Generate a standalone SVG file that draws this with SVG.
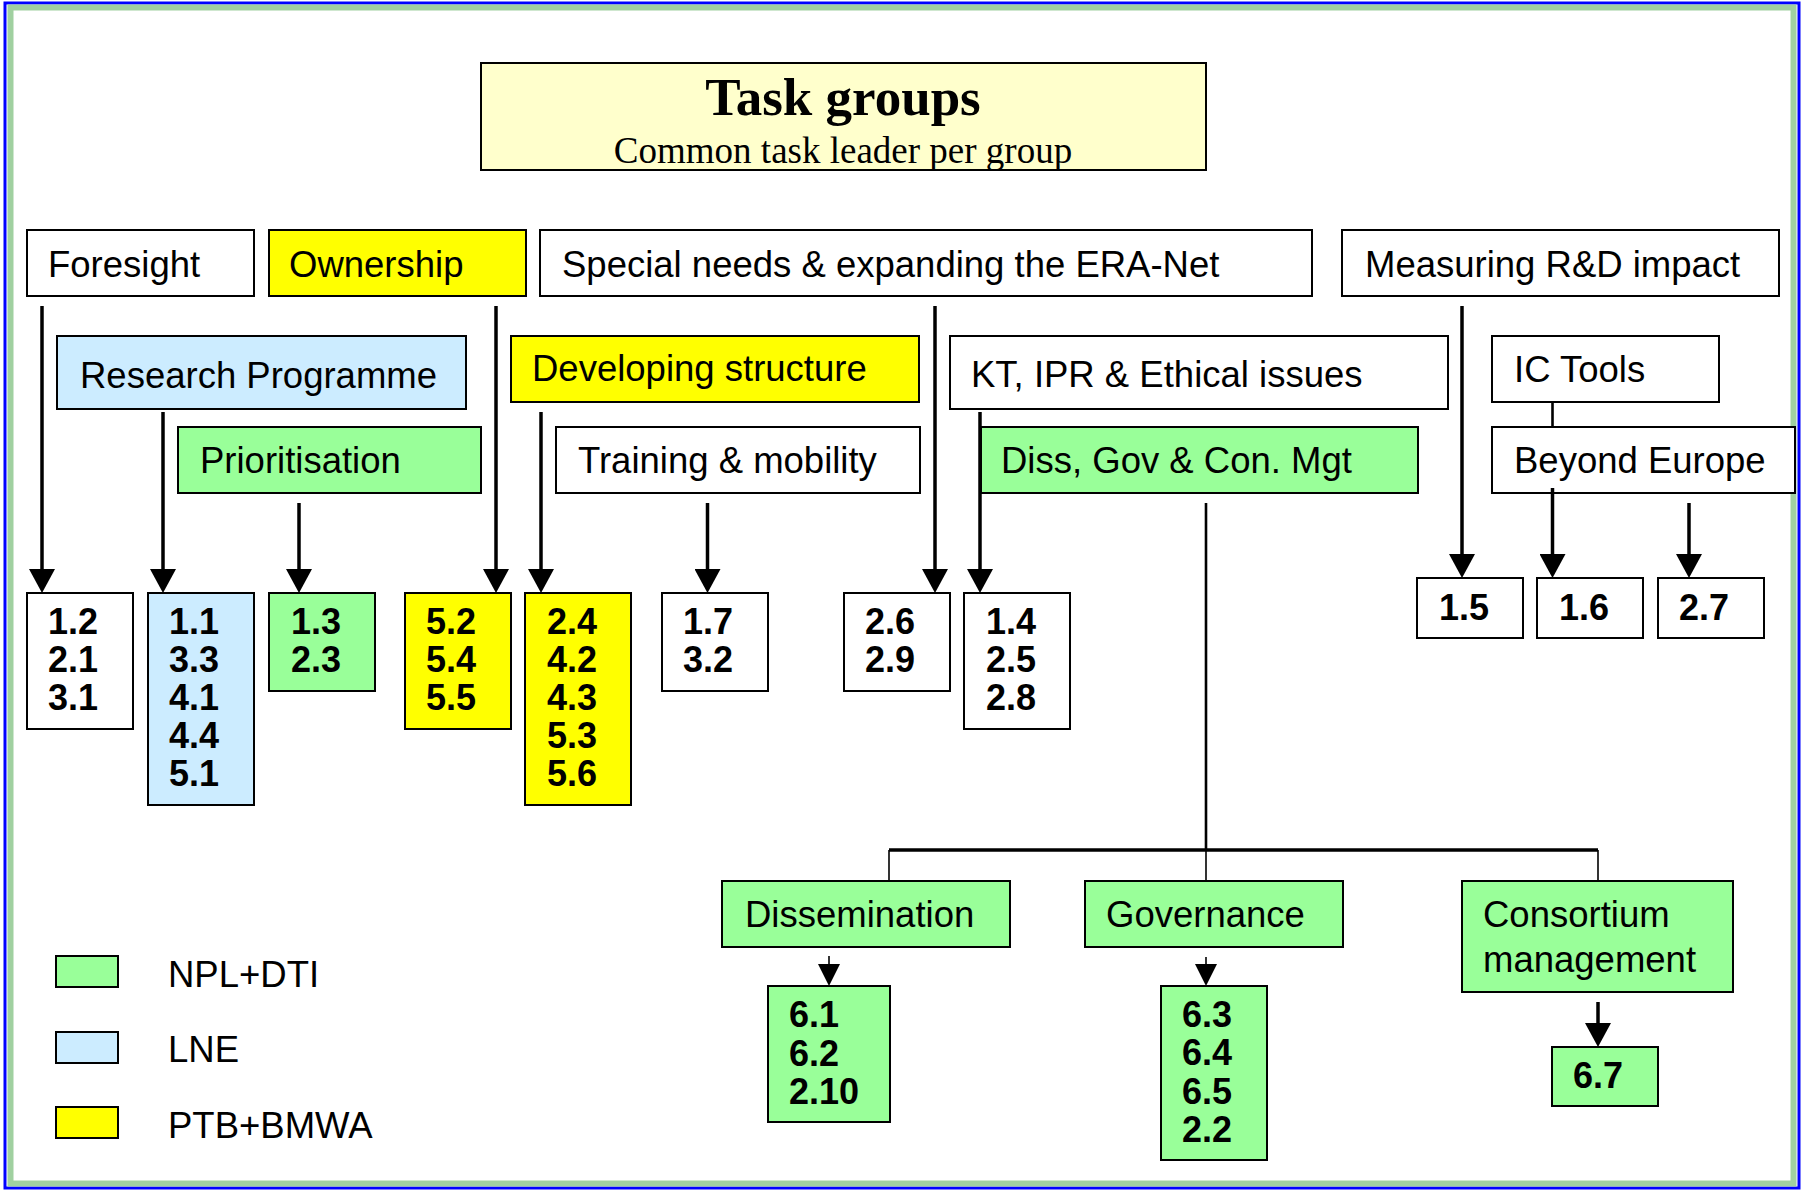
<svg xmlns="http://www.w3.org/2000/svg" width="1803" height="1191" viewBox="0 0 1803 1191">
<style>
.box{stroke:#000;stroke-width:2}
.w{fill:#fff}.g{fill:#99FF99}.b{fill:#CCECFF}.y{fill:#FFFF00}
.lbl{font-family:"Liberation Sans",Arial,sans-serif;font-size:36.5px;fill:#000}
.num{font-family:"Liberation Sans",Arial,sans-serif;font-size:36px;font-weight:bold;fill:#000}
.arr{stroke:#000;stroke-width:3.5;fill:none}
.thin{stroke:#000;stroke-width:1.6;fill:none}
.mid{stroke:#000;stroke-width:2.6;fill:none}
</style>
<defs>
<marker id="ah" markerUnits="userSpaceOnUse" markerWidth="24" markerHeight="26" viewBox="0 0 24 26" refX="18" refY="13" orient="auto"><path d="M0,0 L24,13 L0,26 z" fill="#000"/></marker>
<marker id="ahs" markerUnits="userSpaceOnUse" markerWidth="22" markerHeight="22" viewBox="0 0 22 22" refX="16" refY="11" orient="auto"><path d="M0,0 L22,11 L0,22 z" fill="#000"/></marker>
</defs>
<rect x="0" y="0" width="1803" height="1191" fill="#fff"/>
<g id="frame">
<rect x="5" y="3" width="1794" height="1185" fill="none" stroke="#0000FF" stroke-width="3"/>
<rect x="10.5" y="7.5" width="1783" height="1176" fill="none" stroke="#A0D0A0" stroke-width="6"/>
</g>
<g id="n-title">
<rect class="box" x="481" y="63" width="725" height="107" fill="#FFFFCC"/>
<text x="843" y="115" text-anchor="middle" style="font-family:'Liberation Serif','Times New Roman',serif;font-size:53px;font-weight:bold">Task groups</text>
<text x="843" y="163" text-anchor="middle" style="font-family:'Liberation Serif','Times New Roman',serif;font-size:37px">Common task leader per group</text>
</g>
<g id="n-foresight"><rect class="box w" x="27" y="230" width="227" height="66"/><text class="lbl" x="48" y="277">Foresight</text></g>
<g id="n-ownership"><rect class="box y" x="269" y="230" width="257" height="66"/><text class="lbl" x="289" y="277">Ownership</text></g>
<g id="n-special"><rect class="box w" x="540" y="230" width="772" height="66"/><text class="lbl" x="562" y="277">Special needs &amp; expanding the ERA-Net</text></g>
<g id="n-measuring"><rect class="box w" x="1342" y="230" width="437" height="66"/><text class="lbl" x="1365" y="277">Measuring R&amp;D impact</text></g>
<g id="n-research"><rect class="box b" x="57" y="336" width="409" height="73"/><text class="lbl" x="80" y="388">Research Programme</text></g>
<g id="n-developing"><rect class="box y" x="511" y="336" width="408" height="66"/><text class="lbl" x="532" y="381">Developing structure</text></g>
<g id="n-kt"><rect class="box w" x="950" y="336" width="498" height="73"/><text class="lbl" x="971" y="387">KT, IPR &amp; Ethical issues</text></g>
<g id="n-ictools"><rect class="box w" x="1492" y="336" width="227" height="66"/><text class="lbl" x="1514" y="382">IC Tools</text></g>
<g id="n-prioritisation"><rect class="box g" x="178" y="427" width="303" height="66"/><text class="lbl" x="200" y="473">Prioritisation</text></g>
<g id="n-training"><rect class="box w" x="556" y="427" width="364" height="66"/><text class="lbl" x="578" y="473">Training &amp; mobility</text></g>
<g id="n-diss"><rect class="box g" x="981" y="427" width="437" height="66"/><text class="lbl" x="1001" y="473">Diss, Gov &amp; Con. Mgt</text></g>
<g id="n-beyond"><rect class="box w" x="1492" y="427" width="303" height="66"/><text class="lbl" x="1514" y="473">Beyond Europe</text></g>

<g id="t-a"><rect class="box w" x="27" y="593" width="106" height="136"/><text class="num" x="48" y="634">1.2</text><text class="num" x="48" y="672">2.1</text><text class="num" x="48" y="710">3.1</text></g>
<g id="t-b"><rect class="box b" x="148" y="593" width="106" height="212"/><text class="num" x="169" y="634">1.1</text><text class="num" x="169" y="672">3.3</text><text class="num" x="169" y="710">4.1</text><text class="num" x="169" y="748">4.4</text><text class="num" x="169" y="786">5.1</text></g>
<g id="t-c"><rect class="box g" x="269" y="593" width="106" height="98"/><text class="num" x="291" y="634">1.3</text><text class="num" x="291" y="672">2.3</text></g>
<g id="t-d"><rect class="box y" x="405" y="593" width="106" height="136"/><text class="num" x="426" y="634">5.2</text><text class="num" x="426" y="672">5.4</text><text class="num" x="426" y="710">5.5</text></g>
<g id="t-e"><rect class="box y" x="525" y="593" width="106" height="212"/><text class="num" x="547" y="634">2.4</text><text class="num" x="547" y="672">4.2</text><text class="num" x="547" y="710">4.3</text><text class="num" x="547" y="748">5.3</text><text class="num" x="547" y="786">5.6</text></g>
<g id="t-f"><rect class="box w" x="662" y="593" width="106" height="98"/><text class="num" x="683" y="634">1.7</text><text class="num" x="683" y="672">3.2</text></g>
<g id="t-g"><rect class="box w" x="844" y="593" width="106" height="98"/><text class="num" x="865" y="634">2.6</text><text class="num" x="865" y="672">2.9</text></g>
<g id="t-h"><rect class="box w" x="964" y="593" width="106" height="136"/><text class="num" x="986" y="634">1.4</text><text class="num" x="986" y="672">2.5</text><text class="num" x="986" y="710">2.8</text></g>
<g id="t-15"><rect class="box w" x="1417" y="578" width="106" height="60"/><text class="num" x="1439" y="620">1.5</text></g>
<g id="t-16"><rect class="box w" x="1537" y="578" width="106" height="60"/><text class="num" x="1559" y="620">1.6</text></g>
<g id="t-27"><rect class="box w" x="1658" y="578" width="106" height="60"/><text class="num" x="1679" y="620">2.7</text></g>

<g id="n-dissemination"><rect class="box g" x="722" y="881" width="288" height="66"/><text class="lbl" x="745" y="927">Dissemination</text></g>
<g id="n-governance"><rect class="box g" x="1085" y="881" width="258" height="66"/><text class="lbl" x="1106" y="927">Governance</text></g>
<g id="n-consortium"><rect class="box g" x="1462" y="881" width="271" height="111"/><text class="lbl" x="1483" y="927">Consortium</text><text class="lbl" x="1483" y="972">management</text></g>
<g id="t-61"><rect class="box g" x="768" y="986" width="122" height="136"/><text class="num" x="789" y="1027">6.1</text><text class="num" x="789" y="1066">6.2</text><text class="num" x="789" y="1104">2.10</text></g>
<g id="t-63"><rect class="box g" x="1161" y="986" width="106" height="174"/><text class="num" x="1182" y="1027">6.3</text><text class="num" x="1182" y="1065">6.4</text><text class="num" x="1182" y="1104">6.5</text><text class="num" x="1182" y="1142">2.2</text></g>
<g id="t-67"><rect class="box g" x="1552" y="1047" width="106" height="59"/><text class="num" x="1573" y="1088">6.7</text></g>

<g id="legend">
<rect class="box g" x="56" y="956" width="62" height="31"/><text class="lbl" x="168" y="987">NPL+DTI</text>
<rect class="box b" x="56" y="1032" width="62" height="31"/><text class="lbl" x="168" y="1062">LNE</text>
<rect class="box y" x="56" y="1107" width="62" height="31"/><text class="lbl" x="168" y="1138">PTB+BMWA</text>
</g>

<g id="connectors">
<line class="arr" x1="42" y1="306" x2="42" y2="587" marker-end="url(#ah)"/>
<line class="arr" x1="163" y1="412" x2="163" y2="587" marker-end="url(#ah)"/>
<line class="arr" x1="299" y1="503" x2="299" y2="587" marker-end="url(#ah)"/>
<line class="arr" x1="496" y1="306" x2="496" y2="587" marker-end="url(#ah)"/>
<line class="arr" x1="541" y1="412" x2="541" y2="587" marker-end="url(#ah)"/>
<line class="arr" x1="707.5" y1="503" x2="707.5" y2="587" marker-end="url(#ah)"/>
<line class="arr" x1="935" y1="306" x2="935" y2="587" marker-end="url(#ah)"/>
<line class="arr" x1="980" y1="412" x2="980" y2="587" marker-end="url(#ah)"/>
<line class="arr" x1="1462" y1="306" x2="1462" y2="572" marker-end="url(#ah)"/>
<line class="arr" x1="1552.5" y1="488" x2="1552.5" y2="572" marker-end="url(#ah)"/>
<line class="arr" x1="1689" y1="503" x2="1689" y2="572" marker-end="url(#ah)"/>
<line class="mid" x1="1552.5" y1="402" x2="1552.5" y2="427"/>
<line class="mid" x1="1206" y1="503" x2="1206" y2="850"/>
<line class="arr" x1="889" y1="850" x2="1598" y2="850"/>
<line class="thin" x1="889" y1="850" x2="889" y2="881"/>
<line class="thin" x1="1206" y1="850" x2="1206" y2="881"/>
<line class="thin" x1="1598" y1="850" x2="1598" y2="881"/>
<line class="thin" x1="829" y1="956" x2="829" y2="980" marker-end="url(#ahs)"/>
<line class="thin" x1="1206" y1="957" x2="1206" y2="980" marker-end="url(#ahs)"/>
<line class="arr" x1="1598" y1="1002" x2="1598" y2="1041" marker-end="url(#ah)"/>
</g>
</svg>
